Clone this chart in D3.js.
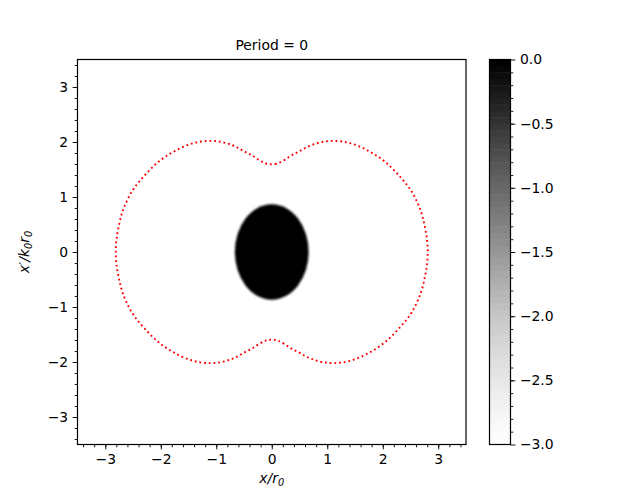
<!DOCTYPE html>
<html>
<head>
<meta charset="utf-8">
<script src="https://cdn.jsdelivr.net/npm/d3@7"></script>
<style>
  body { margin: 0; background: #fff; }
  text { font-family: "DejaVu Sans", sans-serif; fill: #000; }
</style>
</head>
<body>
<div id="chart"></div>
<script>
// separatrix, upper-right quadrant (x/r0, x'/k0r0)
const sepX = [0, 0.06, 0.12, 0.24, 0.36, 0.48, 0.6, 0.72, 0.9, 1.12, 1.41, 1.74, 2.04, 2.31, 2.52, 2.68, 2.76, 2.80, 2.81];
const sepY = [1.595, 1.60, 1.615, 1.68, 1.76, 1.82, 1.89, 1.945, 2.0, 2.02, 1.98, 1.84, 1.64, 1.37, 1.10, 0.76, 0.45, 0.2, 0];

// beam blob (log density ~ 0 inside)
const blob = { cx: 0, cy: 0, rx: 0.665, ry: 0.866, value: 0 };

const axisTicks = [-3, -2, -1, 0, 1, 2, 3];
const cbarTicks = [0.0, -0.5, -1.0, -1.5, -2.0, -2.5, -3.0];
const cbarDomain = [-3, 0];
const title = 'Period = 0';

const W = 625, H = 500;
const plot = { left: 77.5, right: 466, top: 59.5, bottom: 444.5 };
const cbar = { left: 489.5, right: 510.5 };

const svg = d3.select('#chart').append('svg')
  .attr('width', W).attr('height', H);

const x = d3.scaleLinear().domain([-3.5, 3.5]).range([plot.left, plot.right]);
const y = d3.scaleLinear().domain([-3.5, 3.5]).range([plot.bottom, plot.top]);
const color = d3.scaleSequential(t => d3.interpolateGreys(t)).domain(cbarDomain);

const defs = svg.append('defs');
defs.append('clipPath').attr('id', 'clip')
  .append('rect')
  .attr('x', plot.left).attr('y', plot.top)
  .attr('width', plot.right - plot.left).attr('height', plot.bottom - plot.top);
defs.append('filter').attr('id', 'soft')
  .append('feGaussianBlur').attr('stdDeviation', 0.8);

const g = svg.append('g').attr('clip-path', 'url(#clip)');

g.append('ellipse')
  .attr('cx', x(blob.cx)).attr('cy', y(blob.cy))
  .attr('rx', x(blob.rx) - x(0)).attr('ry', y(0) - y(blob.ry))
  .attr('fill', color(blob.value))
  .attr('filter', 'url(#soft)');

// build the closed loop from the quadrant by symmetry
const q1 = sepX.map((v, i) => [v, sepY[i]]);
const loop = [].concat(
  q1,
  q1.slice(0, -1).reverse().map(p => [p[0], -p[1]]),
  q1.slice(1).map(p => [-p[0], -p[1]]),
  q1.slice(1, -1).reverse().map(p => [-p[0], p[1]])
);

g.append('path')
  .datum(loop)
  .attr('fill', 'none')
  .attr('stroke', '#ff0000')
  .attr('stroke-width', 1.9)
  .attr('stroke-dasharray', '1.8,2.9')
  .attr('d', d3.line().x(d => x(d[0])).y(d => y(d[1])).curve(d3.curveCatmullRomClosed.alpha(0.5)));

const fmtAxis = d => d3.format('d')(d).replace('-', '\u2212');
const minor = d3.range(-3.4, 3.5, 0.2).map(v => +v.toFixed(1));

// x axis
const xAxis = svg.append('g').attr('transform', `translate(0,${plot.bottom})`);
xAxis.call(d3.axisBottom(x).tickValues(minor).tickSize(2.8).tickFormat(''));
xAxis.append('g').call(d3.axisBottom(x).tickValues(axisTicks).tickSize(4.9).tickPadding(4.5).tickFormat(fmtAxis));

// y axis
const yAxis = svg.append('g').attr('transform', `translate(${plot.left},0)`);
yAxis.call(d3.axisLeft(y).tickValues(minor).tickSize(2.8).tickFormat(''));
yAxis.append('g').call(d3.axisLeft(y).tickValues(axisTicks).tickSize(4.9).tickPadding(4.5).tickFormat(fmtAxis));

svg.selectAll('.domain').remove();
svg.selectAll('.tick line').attr('stroke', '#000').attr('stroke-width', 0.9);
svg.selectAll('.tick text').attr('font-size', 13.9).attr('font-family', 'DejaVu Sans').attr('fill', '#000');

svg.append('rect')
  .attr('x', plot.left).attr('y', plot.top)
  .attr('width', plot.right - plot.left).attr('height', plot.bottom - plot.top)
  .attr('fill', 'none').attr('stroke', '#000').attr('stroke-width', 1.2);

// title and labels
svg.append('text')
  .attr('x', (plot.left + plot.right) / 2).attr('y', 50)
  .attr('text-anchor', 'middle').attr('font-size', 13.9)
  .text(title);

const xl = svg.append('text')
  .attr('x', (plot.left + plot.right) / 2).attr('y', 483)
  .attr('text-anchor', 'middle').attr('font-size', 13.9);
xl.append('tspan').attr('font-style', 'italic').text('x/r');
xl.append('tspan').attr('font-style', 'italic').attr('font-size', 9.8).attr('dy', 3).text('0');

const yl = svg.append('text')
  .attr('transform', `translate(28.5,${(plot.top + plot.bottom) / 2}) rotate(-90)`)
  .attr('text-anchor', 'middle').attr('font-size', 13.9);
yl.append('tspan').attr('font-style', 'italic').text('x\u2032/k');
yl.append('tspan').attr('font-style', 'italic').attr('font-size', 9.8).attr('dy', 3).text('0');
yl.append('tspan').attr('font-style', 'italic').attr('dy', -3).text('r');
yl.append('tspan').attr('font-style', 'italic').attr('font-size', 9.8).attr('dy', 3).text('0');

// colorbar
const cy = d3.scaleLinear().domain(cbarDomain).range([plot.bottom, plot.top]);
const steps = d3.range(cbarDomain[0], cbarDomain[1], 0.05);
svg.append('g').selectAll('rect')
  .data(steps)
  .join('rect')
  .attr('x', cbar.left)
  .attr('width', cbar.right - cbar.left)
  .attr('y', d => cy(d + 0.05))
  .attr('height', d => cy(d) - cy(d + 0.05) + 0.5)
  .attr('fill', d => color(d + 0.025));

const cAxis = svg.append('g').attr('transform', `translate(${cbar.right},0)`);
cAxis.call(d3.axisRight(cy).tickValues(d3.range(-2.9, 0, 0.1).map(v => +v.toFixed(1))).tickSize(2.8).tickFormat(''));
cAxis.append('g').call(d3.axisRight(cy).tickValues(cbarTicks).tickSize(4.9).tickPadding(4.5)
  .tickFormat(d => d3.format('.1f')(d).replace('-', '\u2212')));
cAxis.selectAll('.domain').remove();
cAxis.selectAll('.tick line').attr('stroke', '#000').attr('stroke-width', 0.9);
cAxis.selectAll('.tick text').attr('font-size', 13.9).attr('font-family', 'DejaVu Sans').attr('fill', '#000');

svg.append('rect')
  .attr('x', cbar.left).attr('y', plot.top)
  .attr('width', cbar.right - cbar.left).attr('height', plot.bottom - plot.top)
  .attr('fill', 'none').attr('stroke', '#000').attr('stroke-width', 1.2);
</script>
</body>
</html>
